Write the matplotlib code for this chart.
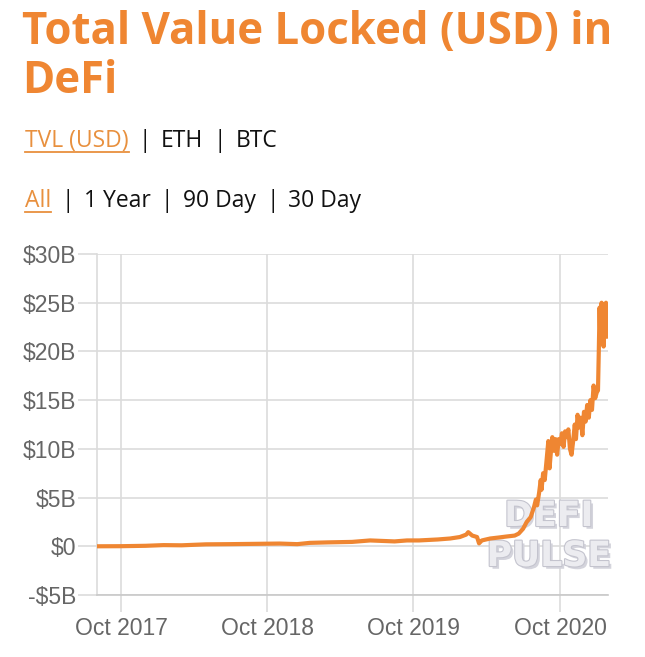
import numpy as np
import pandas as pd
import matplotlib
matplotlib.use("Agg")
import matplotlib.pyplot as plt
import matplotlib.dates as mdates
import matplotlib.patheffects as pe
from matplotlib.ticker import FuncFormatter

# TVL in billions of USD
dates = ["2017-08-02", "2017-10-01", "2017-12-01", "2018-01-15", "2018-03-01",
         "2018-05-01", "2018-07-01", "2018-09-01", "2018-11-01", "2018-12-15",
         "2019-01-15", "2019-03-01", "2019-05-01", "2019-06-15", "2019-07-15",
         "2019-08-15", "2019-09-15", "2019-10-15", "2019-12-01", "2020-01-01",
         "2020-01-25", "2020-02-10", "2020-02-15", "2020-02-25", "2020-03-08",
         "2020-03-13", "2020-03-20", "2020-04-10", "2020-05-01", "2020-05-20",
         "2020-06-10", "2020-06-20", "2020-07-01", "2020-07-10", "2020-07-20",
         "2020-07-28", "2020-08-02", "2020-08-05", "2020-08-10", "2020-08-14",
         "2020-08-16", "2020-08-20", "2020-08-24", "2020-08-29", "2020-09-02",
         "2020-09-05", "2020-09-08", "2020-09-12", "2020-09-16", "2020-09-20",
         "2020-09-24", "2020-09-28", "2020-10-02", "2020-10-06", "2020-10-10",
         "2020-10-14", "2020-10-18", "2020-10-22", "2020-10-26", "2020-10-30",
         "2020-11-03", "2020-11-07", "2020-11-10", "2020-11-14", "2020-11-18",
         "2020-11-22", "2020-11-26", "2020-11-30", "2020-12-04", "2020-12-08",
         "2020-12-12", "2020-12-16", "2020-12-20", "2020-12-24", "2020-12-28",
         "2021-01-01", "2021-01-04", "2021-01-06", "2021-01-08", "2021-01-10",
         "2021-01-13", "2021-01-16", "2021-01-18", "2021-01-21", "2021-01-24",
         "2021-01-26", "2021-01-28"]
tvl = [0.00, 0.01, 0.05, 0.12, 0.10,
       0.20, 0.22, 0.25, 0.28, 0.22,
       0.35, 0.40, 0.45, 0.60, 0.55,
       0.50, 0.60, 0.60, 0.70, 0.80,
       0.95, 1.20, 1.45, 1.10, 0.95,
       0.30, 0.60, 0.80, 0.90, 1.00,
       1.10, 1.30, 1.80, 2.50, 3.00,
       4.00, 4.80, 4.20, 5.50, 6.80,
       5.80, 7.50, 6.80, 9.00, 10.8,
       8.0, 9.5, 11.2, 9.8, 11.0,
       9.4, 11.0, 10.5, 11.6, 10.2,
       11.8, 11.2, 12.0, 10.0, 9.4,
       10.8, 12.5, 11.0, 13.5, 12.2,
       13.2, 11.4, 13.8, 12.8, 14.5,
       13.2, 15.0, 14.0, 16.5, 15.2,
       15.8, 16.0, 20.0, 24.5, 21.0,
       25.0, 22.0, 20.5, 24.8, 25.0,
       21.5, 21.8]

yticks = [-5, 0, 5, 10, 15, 20, 25, 30]
xticks = ["2017-10-01", "2018-10-01", "2019-10-01", "2020-10-01"]

orange = "#ef8632"
grid_c = "#dcdcdc"

fig = plt.figure(figsize=(6.45, 6.57), dpi=100)
ax = fig.add_axes([97 / 645, 1 - 595 / 657, 511 / 645, 341 / 657])

ax.plot(pd.to_datetime(dates), tvl, color=orange, lw=3.0, zorder=3,
        solid_joinstyle="round")

ax.set_xlim(pd.Timestamp("2017-08-02"), pd.Timestamp("2021-01-29"))
ax.set_ylim(-5, 30)
ax.set_yticks(yticks)
ax.set_xticks(pd.to_datetime(xticks))
ax.xaxis.set_major_formatter(mdates.DateFormatter("%b %Y"))
ax.yaxis.set_major_formatter(FuncFormatter(
    lambda v, p: ("-$%dB" % -v) if v < 0 else ("$0" if v == 0 else "$%dB" % v)))

ax.grid(True, color=grid_c, lw=1.2)
ax.set_axisbelow(True)
for s in ["top", "right"]:
    ax.spines[s].set_visible(False)
ax.spines["left"].set_color(grid_c)
ax.spines["left"].set_linewidth(1.2)
ax.spines["bottom"].set_color("#c8c8c8")
ax.spines["bottom"].set_linewidth(1.2)
ax.tick_params(axis="y", length=14, width=1.2, color=grid_c, pad=1,
               labelsize=16.5, labelcolor="#666666")
ax.tick_params(axis="x", length=12, width=1.2, color=grid_c, pad=4,
               labelsize=16.5, labelcolor="#666666")
for lab in ax.get_xticklabels() + ax.get_yticklabels():
    lab.set_fontfamily("Liberation Sans")

# watermark, under the line
wm_fx = [pe.withSimplePatchShadow(offset=(2, -2), shadow_rgbFace="#d4d4dc", alpha=1.0),
         pe.withStroke(linewidth=1.6, foreground="#c4c4ce")]
for txt, ypx in [("DEFI", 516), ("PULSE", 556)]:
    ax.text(549 / 645, 1 - ypx / 657, txt, ha="center", va="center", fontsize=25,
            fontweight="bold", family="DejaVu Sans", color="#ececf0",
            path_effects=wm_fx, transform=fig.transFigure, zorder=2.5,
            clip_on=False)

# header
fig.text(22 / 645, 1 - 44 / 657, "Total Value Locked (USD) in", ha="left",
         va="baseline", fontsize=31.5, fontweight="bold", family="Open Sans",
         color=orange)
fig.text(22 / 645, 1 - 93 / 657, "DeFi", ha="left", va="baseline",
         fontsize=31.5, fontweight="bold", family="Open Sans", color=orange)

link_c = "#e8903e"


def menu_row(y_px, items):
    fig.canvas.draw()
    r = fig.canvas.get_renderer()
    x = 25
    for i, item in enumerate(items):
        if i > 0:
            t = fig.text((x + 10) / 645, 1 - y_px / 657, "|", ha="left",
                         va="baseline", fontsize=16.5, family="Open Sans",
                         color="#111111")
            x = t.get_window_extent(r).x1 + 10
        c = link_c if i == 0 else "#111111"
        t = fig.text(x / 645, 1 - y_px / 657, item, ha="left", va="baseline",
                     fontsize=16.5, family="Open Sans", color=c)
        bb = t.get_window_extent(r)
        if i == 0:
            fig.add_artist(plt.Line2D([bb.x0 / 645, bb.x1 / 645],
                                      [1 - (y_px + 5) / 657] * 2,
                                      color=link_c, lw=1.3))
        x = bb.x1


menu_row(147, ["TVL (USD)", "ETH", "BTC"])
menu_row(207, ["All", "1 Year", "90 Day", "30 Day"])

fig.savefig("out.png", dpi=100, facecolor="white")
